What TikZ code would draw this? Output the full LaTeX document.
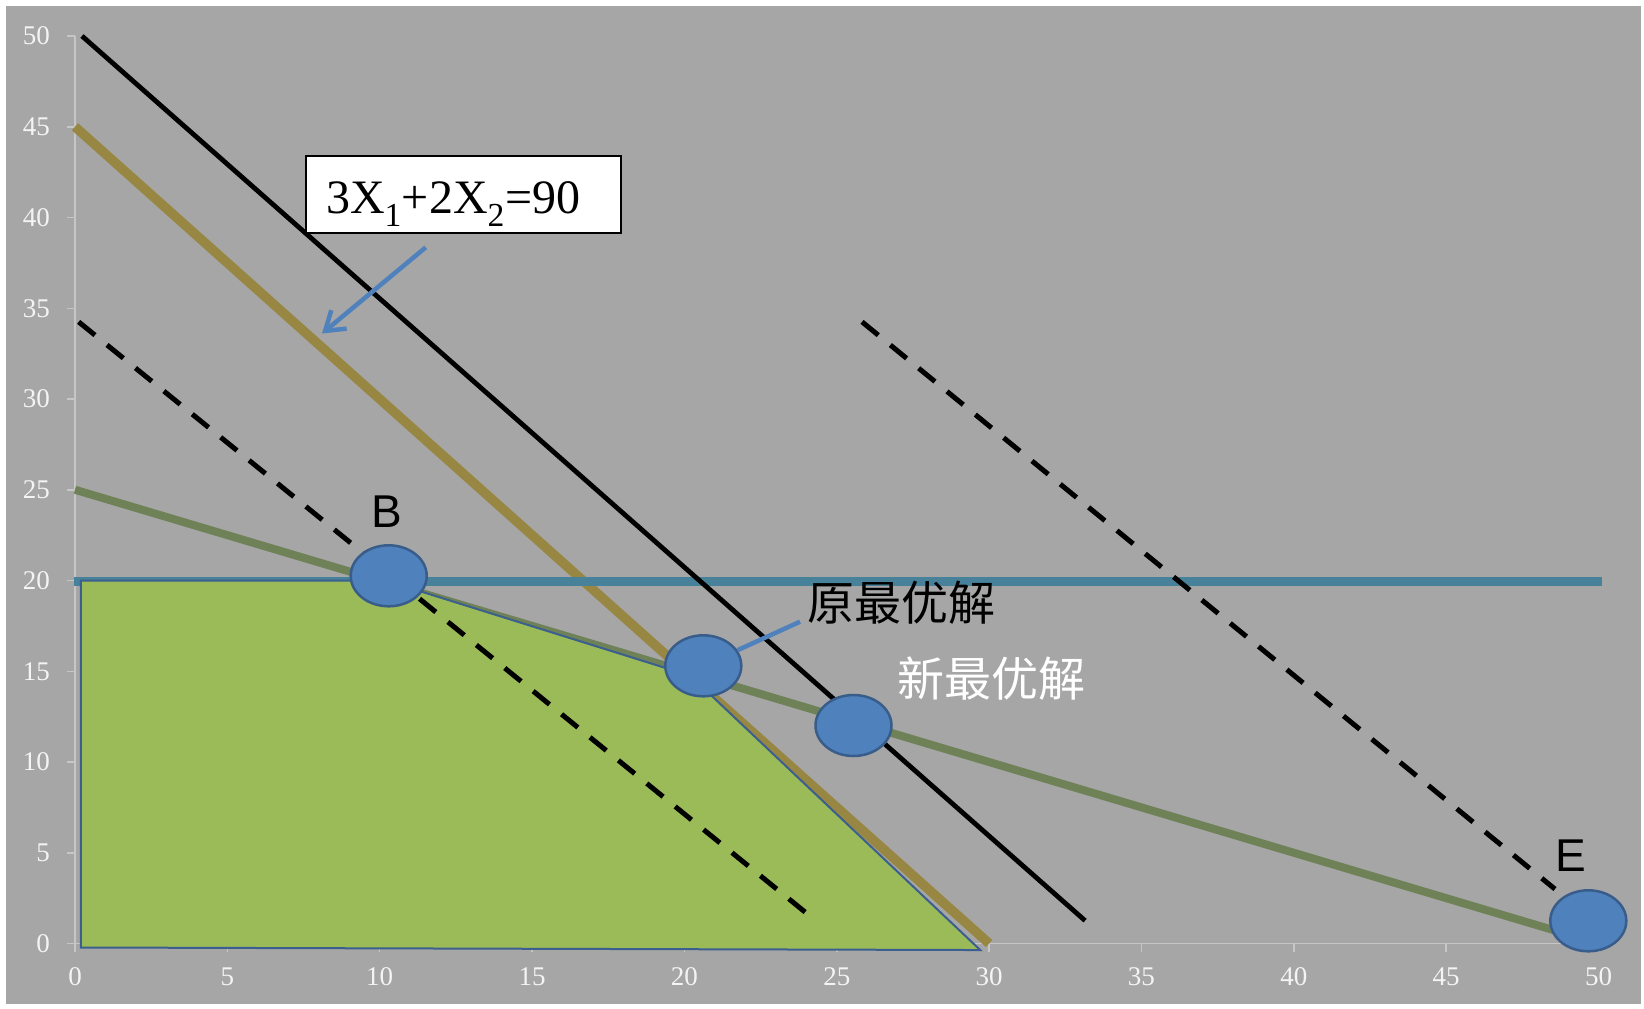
\documentclass[tikz,border=0pt]{standalone}
\usepackage{fontspec}
\newfontfamily\tms{Liberation Serif}
\newfontfamily\ars{Liberation Sans}
\newfontfamily\cjk{Noto Sans CJK SC}
\usetikzlibrary{shapes.geometric,arrows.meta}
\definecolor{bggray}{HTML}{A6A6A6}
\definecolor{goldl}{HTML}{988743}
\definecolor{teall}{HTML}{47829A}
\definecolor{oliveg}{HTML}{6E8157}
\definecolor{fillg}{HTML}{9BBB59}
\definecolor{edgeb}{HTML}{3B5F8E}
\definecolor{dotb}{HTML}{4F81BD}
\definecolor{dotedge}{HTML}{385D8A}
\definecolor{axisg}{HTML}{C6C6C6}
\definecolor{ticklab}{HTML}{F4F4F4}
\begin{document}
\begin{tikzpicture}[x=1pt,y=-1pt,
  axisline/.style={draw=axisg, line width=1.5pt},
  ticklabel/.style={text=ticklab, inner sep=0pt, font=\tms\fontsize{27}{32}\selectfont},
  goldline/.style={draw=goldl, line width=9.5pt},
  greenline/.style={draw=oliveg, line width=8pt},
  tealline/.style={draw=teall, line width=9pt},
  blackline/.style={draw=black, line width=4.8pt},
  dashline/.style={draw=black, line width=5pt, dash pattern=on 21pt off 15.6pt},
  dot/.style={ellipse, fill=dotb, draw=dotedge, line width=2.5pt, minimum width=76pt, minimum height=61pt, inner sep=0pt},
  callout/.style={draw=dotb, line width=4.5pt},
  lettertxt/.style={inner sep=0pt, font=\ars\fontsize{46}{50}\selectfont},
  cjktxt/.style={inner sep=0pt, font=\cjk\fontsize{47}{52}\selectfont},
  labbox/.style={draw=black, line width=2pt, fill=white, text width=275pt, align=left, inner xsep=20pt, inner ysep=0pt, text height=44pt, text depth=6pt, minimum height=77pt, font=\tms\fontsize{48}{52}\selectfont}
]
\fill[white] (0,0) rectangle (1644,1009);
\useasboundingbox (0,0) rectangle (1644,1009);
\fill[bggray] (6,6) rectangle (1641,1004);

\begin{scope}[shift={(75,943.5)}, x=30.47pt, y=18.15pt]
  % axes
  \draw[axisline] (0,0) -- (0,50);
  \draw[axisline] (0,0) -- (50,0);
  \foreach \v in {0,5,...,50} {
    \draw[axisline] (0,\v) -- ++(-8pt,0);
    \draw[axisline] (\v,0) -- ++(0,-8pt);
    \node[ticklabel, anchor=east] (yl\v) at ([xshift=-25pt]0,\v) {\v};
    \node[ticklabel] (xl\v) at ([yshift=-33.5pt]\v,0) {\v};
  }
  % constraint lines
  \draw[goldline] (0,45) -- (30,0);
  \draw[greenline] (0,25) -- (49.5,0.25);
  \draw[tealline] (-0.03,19.95) -- (50.1,19.95);
  % feasible region
  \filldraw[fill=fillg, draw=edgeb, line width=2pt]
    (0.19,19.99) -- (10.2,20) -- (20.2,14.75) -- (29.71,-0.36) -- (0.19,-0.22) -- cycle;
  % objective lines
  \draw[blackline] (0.23,50) -- (33.15,1.26);
  \draw[dashline] (0.12,34.25) -- (23.97,1.72);
  \draw[dashline] (25.83,34.25) -- (48.57,3.0);
\end{scope}

% points
\node[dot] (B) at (388.7,575.8) {};
\node[dot] (origC) at (703.3,665.8) {};
\node[dot] (newC) at (853.5,725.5) {};
\node[dot] (E) at (1588.3,920.8) {};

% labels
\node[lettertxt] (Blab) at (386.7,511.5) {B};
\node[lettertxt] (Elab) at (1570.5,856) {E};
\node[cjktxt, text=black] (origtxt) at (901,603) {原最优解};
\node[cjktxt, text=white] (newtxt) at (991,678.5) {新最优解};
\coordinate (origtip) at (800,621.7);
\draw[callout] (origC) -- (origtip);

\node[labbox] (lab) at (463.5,194.2) {3X\textsubscript{1}+2X\textsubscript{2}=90};
\coordinate (arrtail) at (425.7,247.4);
\coordinate (arrtip) at (322,333.5);
\draw[callout, -{Straight Barb[length=18pt,width=24pt]}] (arrtail) -- (arrtip);
\end{tikzpicture}
\end{document}
